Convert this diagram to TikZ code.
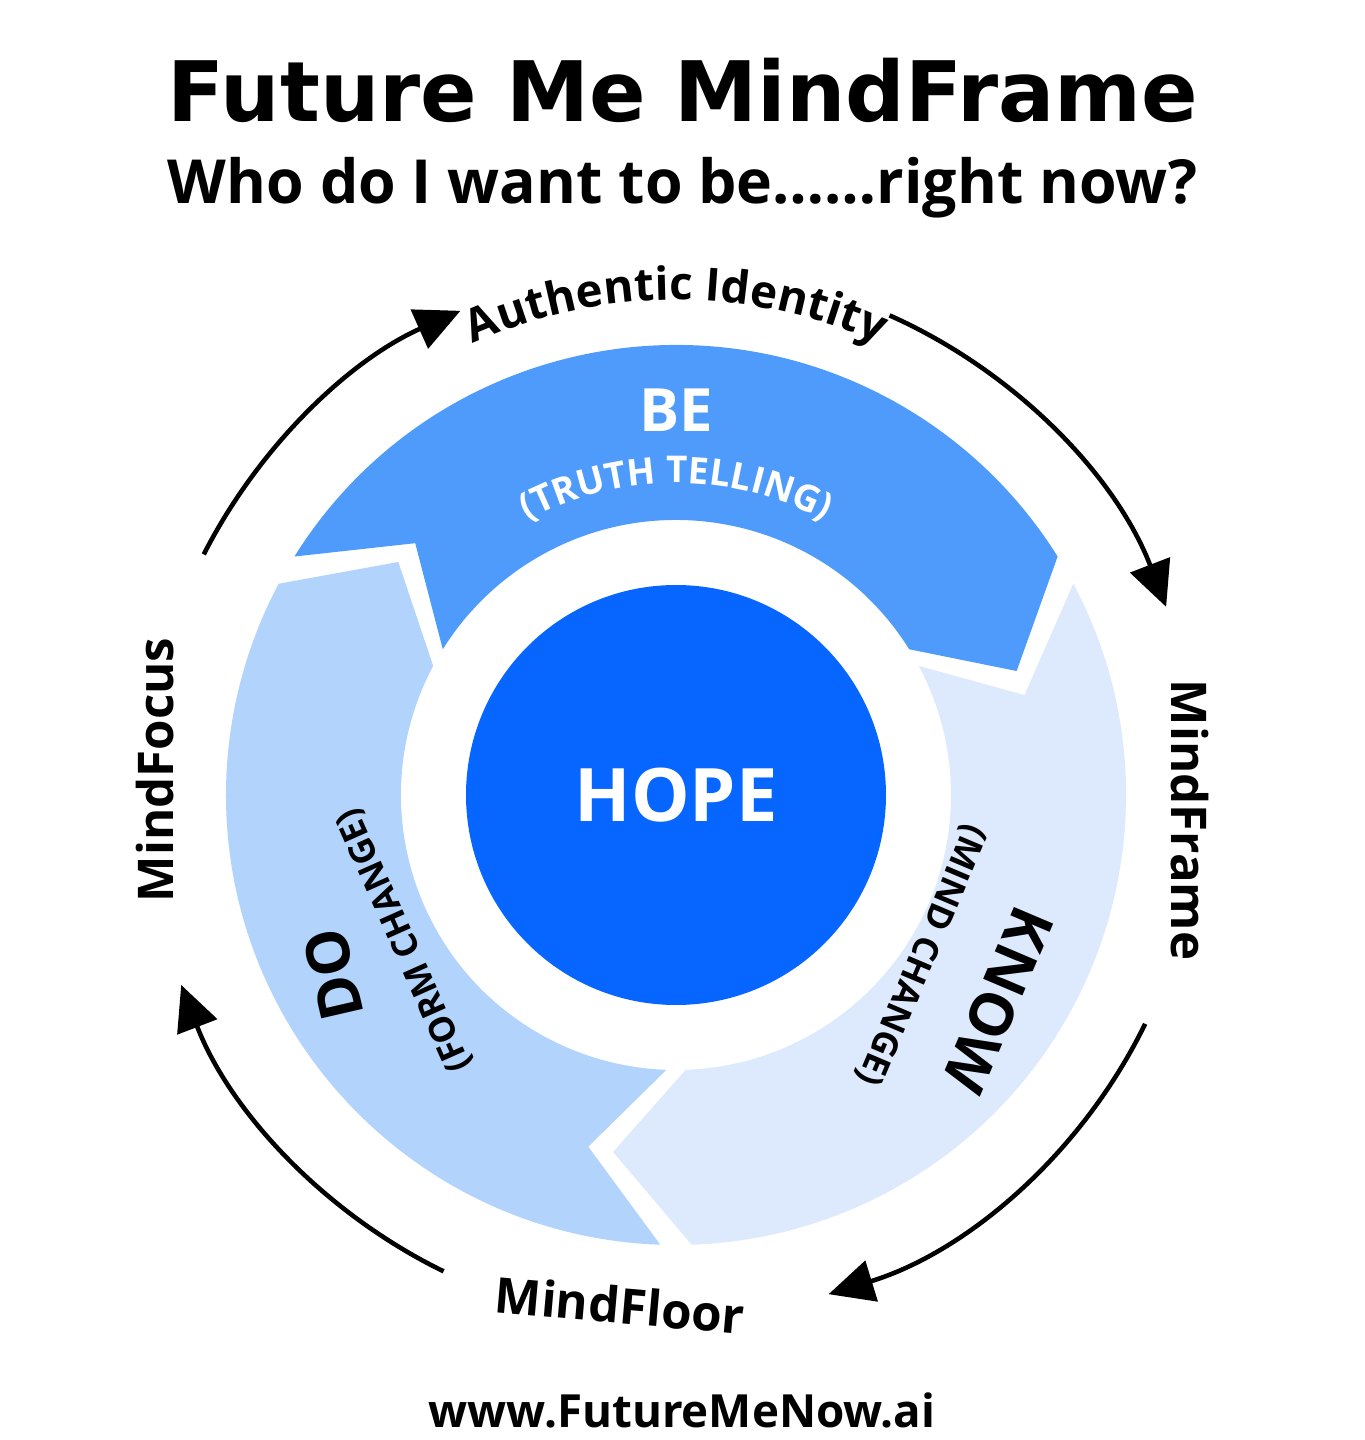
\documentclass[tikz,border=0pt]{standalone}
\usepackage{fontspec}
\setmainfont{Open Sans}
\newfontfamily\titlefont{DejaVu Sans}
\usetikzlibrary{positioning,arrows.meta,decorations.text}
\definecolor{beblue}{HTML}{4F9BFC}
\definecolor{knowblue}{HTML}{DDE9FC}
\definecolor{doblue}{HTML}{B2D3FC}
\definecolor{hopeblue}{HTML}{0766FF}
\tikzset{
  loop arrow/.style={line width=1.3pt,-{Triangle[length=0.45cm,width=0.42cm]}},
  seglabel/.style={font=\bfseries\fontsize{17}{17}\selectfont},
  subseglabel/.style={font=\bfseries\fontsize{10}{10}\selectfont},
  ringlabel/.style={font=\bfseries\fontsize{14}{14}\selectfont}
}
\begin{document}
\begin{tikzpicture}
  \useasboundingbox (-6.76,-6.45) rectangle (6.88,7.95);
  % ring segments
  \foreach \t/\h/\c in {148/32/beblue, 28/-88/knowblue, -92/-208/doblue}{
    \fill[\c] (\t:4.5) arc[start angle=\t,end angle=\h,radius=4.5]
      -- (\h-12:3.625) -- (\h:2.75) arc[start angle=\h,end angle=\t,radius=2.75]
      -- (\t-12:3.625) -- cycle;
  }
  \node[circle,fill=hopeblue,minimum size=4.2cm,text=white,font=\bfseries\fontsize{21}{21}\selectfont] (hope) at (0,0) {HOPE};
  % titles
  \node (title) at (0.07,7.05) {\resizebox{10.3cm}{!}{\titlefont\bfseries Future Me MindFrame}};
  \node[below=0.1cm of title] (sub) {\resizebox{10.3cm}{!}{\bfseries Who do I want to be……right now?}};
  \node[font=\bfseries\fontsize{13}{13}\selectfont] (web) at (0.06,-6.15) {www.FutureMeNow.ai};
  % segment labels
  \node[seglabel,text=white] (be) at (0,3.85) {BE};
  \path[decorate,decoration={text along path,text align=center,text color=white,
    text={|\bfseries\fontsize{10.5}{10.5}\selectfont|(TRUTH TELLING)}}]
    (135:3.12) arc[start angle=135,end angle=45,radius=3.12];
  \node[seglabel,rotate=-113] (know) at (3.22,-2.05) {KNOW};
  \node[subseglabel,rotate=-113] (mind) at (2.45,-1.6) {(MIND CHANGE)};
  \node[seglabel,rotate=103] (do) at (-3.43,-1.8) {DO};
  \node[subseglabel,rotate=114] (form) at (-2.71,-1.45) {(FORM CHANGE)};
  % outer labels
  \path[decorate,decoration={text along path,text align=center,
    text={|\bfseries\fontsize{13}{13}\selectfont|Authentic Identity}}]
    (125:4.95) arc[start angle=125,end angle=55,radius=4.95];
  \node[ringlabel,rotate=90] (focus) at (-5.21,0.25) {MindFocus};
  \node[ringlabel,rotate=-90] (frame) at (5.14,-0.25) {MindFrame};
  \node[ringlabel,rotate=-5] (floor) at (-0.56,-5.1) {MindFloor};
  % loop arrows
  \coordinate (a1) at (153:5.3);
  \coordinate (a2) at (66:5.25);
  \coordinate (a3) at (-26:5.22);
  \coordinate (a4) at (-116:5.3);
  \draw[loop arrow] (a1) arc[start angle=153,end angle=114,radius=5.3];
  \draw[loop arrow] (a2) arc[start angle=66,end angle=21,radius=5.25];
  \draw[loop arrow] (a3) arc[start angle=-26,end angle=-73,radius=5.22];
  \draw[loop arrow] (a4) arc[start angle=-116,end angle=-159,radius=5.3];
\end{tikzpicture}
\end{document}
